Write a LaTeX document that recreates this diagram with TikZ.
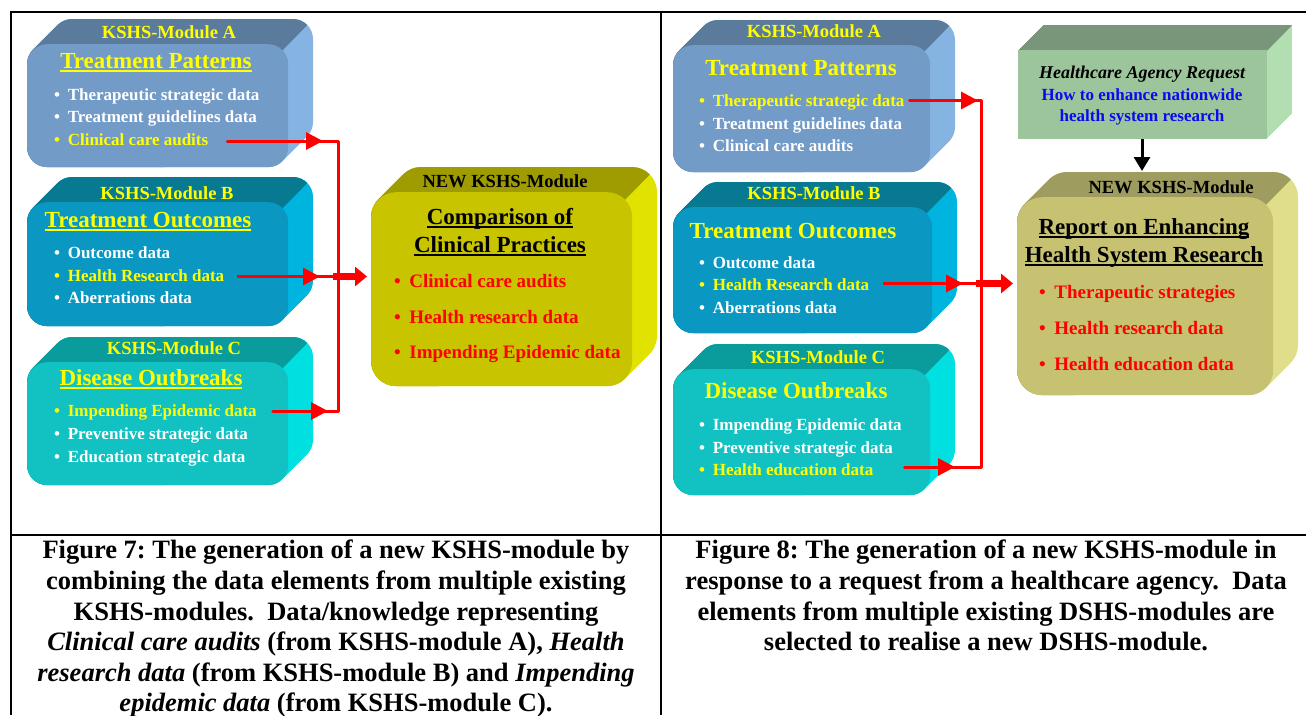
\documentclass[tikz,border=0pt]{standalone}
\usepackage{fontspec}
\setmainfont{Liberation Serif}
\usetikzlibrary{arrows.meta}
\frenchspacing

% palettes: front face, top face, side face
\definecolor{aFront}{HTML}{729BC8}\definecolor{aTop}{HTML}{5A7B9C}\definecolor{aSide}{HTML}{86B4E2}
\definecolor{bFront}{HTML}{0A98C2}\definecolor{bTop}{HTML}{077A92}\definecolor{bSide}{HTML}{00B4E0}
\definecolor{cFront}{HTML}{12C2C2}\definecolor{cTop}{HTML}{0A9C9C}\definecolor{cSide}{HTML}{00E0E0}
\definecolor{nFront}{HTML}{C8C400}\definecolor{nTop}{HTML}{9E9C00}\definecolor{nSide}{HTML}{E2E200}
\definecolor{kFront}{HTML}{C6C272}\definecolor{kTop}{HTML}{9E9C5E}\definecolor{kSide}{HTML}{E0DE8A}
\definecolor{gFront}{HTML}{9CC59C}\definecolor{gTop}{HTML}{7A967A}\definecolor{gSide}{HTML}{B2DEB2}
\definecolor{ylw}{HTML}{FFFF00}
\definecolor{lnkred}{HTML}{FF0000}
\definecolor{qblue}{HTML}{0A0AF0}

% underline crossing descenders, as in the titles
\newcommand\ulin[1]{\setbox0=\hbox{#1}\rlap{\rule[-3.5pt]{\wd0}{1.8pt}}\box0}

% extruded box: name, x0, y0, x1, y1 (front face), corner radius, palette
\newcommand\threedbox[7]{%
  \foreach \i in {0,...,25}{\fill[#7Side, rounded corners=#6] (#2+\i,#3-\i) rectangle (#4+\i,#5-\i);}
  \begin{scope}
    \clip (#4+100,#3-100) -- (#4-400,#3+400) -- (#4-400,#3-100) -- cycle;
    \foreach \i in {0,...,25}{\fill[#7Top, rounded corners=#6] (#2+\i,#3-\i) rectangle (#4+\i,#5-\i);}
  \end{scope}
  \pgfmathsetmacro\bw{#4-#2}\pgfmathsetmacro\bh{#5-#3}
  \node[anchor=north west, inner sep=0, minimum width=\bw pt, minimum height=\bh pt,
        fill=#7Front, rounded corners=#6] (#1) at (#2,#3) {};
}

\tikzset{
  hdr/.style={font=\fontsize{18.5}{21}\selectfont\bfseries, inner sep=0, anchor=base},
  ttl/.style={font=\fontsize{23}{27}\selectfont\bfseries, inner sep=0, anchor=base},
  itm/.style={font=\fontsize{17}{20}\selectfont\bfseries, inner sep=0, anchor=base west},
  ritm/.style={font=\fontsize{19}{22}\selectfont\bfseries, inner sep=0, anchor=base west, text=lnkred},
  reqtext/.style={font=\fontsize{17}{21}\selectfont\bfseries, inner sep=0, anchor=base},
  captext/.style={font=\fontsize{26.5}{30.6}\selectfont\bfseries, inner sep=0, align=center, anchor=north},
  link/.style={lnkred, line width=3pt},
  redtip/.style={-{Triangle[length=17pt,width=17pt]}},
  fat/.style={lnkred, line width=7pt, -{Triangle[length=12pt,width=19pt]}},
  frameline/.style={black, line width=2pt},
}
\newcommand\bul{\textbullet\hspace{0.45em}}

\begin{document}
\begin{tikzpicture}[x=1pt,y=-1pt]
\useasboundingbox (0,0) rectangle (1306,715);
\fill[white] (0,0) rectangle (1306,715);

% ---------- panel frame ----------
\draw[frameline] (11,715) -- (11,12) -- (1306,12);
\draw[frameline] (661,12) -- (661,715);
\draw[frameline] (11,535) -- (1306,535);

% ================= left panel =================
\threedbox{lA}{27}{44}{288}{167}{20}{a}
\node[hdr, text=ylw] (lAh) at (169,38.5) {KSHS-Module A};
\node[ttl, text=ylw] (lAt) at (156,68) {\ulin{Treatment Patterns}};
\node[itm, text=white] (lA1) at (54,100) {\bul Therapeutic strategic data};
\node[itm, text=white] (lA2) at (54,122.5) {\bul Treatment guidelines data};
\node[itm, text=ylw] (lA3) at (54,145) {\bul Clinical care audits};

\threedbox{lB}{27}{202}{288}{326}{20}{b}
\node[hdr, text=ylw] (lBh) at (167,199) {KSHS-Module B};
\node[ttl, text=ylw] (lBt) at (148,227.5) {\ulin{Treatment Outcomes}};
\node[itm, text=white] (lB1) at (54,258) {\bul Outcome data};
\node[itm, text=ylw] (lB2) at (54,281) {\bul Health Research data};
\node[itm, text=white] (lB3) at (54,303) {\bul Aberrations data};

\threedbox{lC}{27}{362}{288}{485}{20}{c}
\node[hdr, text=ylw] (lCh) at (174,354) {KSHS-Module C};
\node[ttl, text=ylw] (lCt) at (151,385.5) {\ulin{Disease Outbreaks}};
\node[itm, text=ylw] (lC1) at (54,416) {\bul Impending Epidemic data};
\node[itm, text=white] (lC2) at (54,439) {\bul Preventive strategic data};
\node[itm, text=white] (lC3) at (54,462) {\bul Education strategic data};

\threedbox{lN}{371}{192}{632}{386}{25}{n}
\node[hdr, text=black] (lNh) at (505,187) {NEW KSHS-Module};
\node[ttl, text=black] (lNt1) at (500,224.5) {\ulin{Comparison of}};
\node[ttl, text=black] (lNt2) at (500,252.5) {\ulin{Clinical Practices}};
\node[ritm] (lN1) at (394,287) {\bul Clinical care audits};
\node[ritm] (lN2) at (394,323) {\bul Health research data};
\node[ritm] (lN3) at (394,358) {\bul Impending Epidemic data};

% connectors into the bus
\coordinate (busL) at (338,0);
\coordinate (sLA) at ([shift={(19,-4)}]lA3.base east);
\coordinate (sLB) at ([shift={(13,-4.5)}]lB2.base east);
\coordinate (sLC) at ([shift={(16,-5)}]lC1.base east);
\coordinate (jL) at (sLB -| busL);
\draw[link, line cap=round, line join=round] (sLA) -- (sLA -| busL) -- (sLC -| busL) -- (sLC);
\draw[link] (sLB) -- (jL);
\draw[link, redtip, shorten >=15pt] (sLA) -- (sLA -| busL);
\draw[link, redtip, shorten >=18pt] (sLB) -- (jL);
\draw[link, redtip, shorten >=10pt] (sLC) -- (sLC -| busL);
\draw[fat, shorten >=4pt] ([xshift=-5pt]jL) -- (jL -| lN.west);

% ================= right panel =================
\threedbox{rA}{673}{45}{930}{172}{20}{a}
\node[hdr, text=ylw] (rAh) at (814,37) {KSHS-Module A};
\node[ttl, text=ylw] (rAt) at (801,75) {Treatment Patterns};
\node[itm, text=ylw] (rA1) at (699,106) {\bul Therapeutic strategic data};
\node[itm, text=white] (rA2) at (699,129) {\bul Treatment guidelines data};
\node[itm, text=white] (rA3) at (699,151) {\bul Clinical care audits};

\threedbox{rB}{673}{207}{932}{333}{20}{b}
\node[hdr, text=ylw] (rBh) at (814,199) {KSHS-Module B};
\node[ttl, text=ylw] (rBt) at (793,238) {Treatment Outcomes};
\node[itm, text=white] (rB1) at (699,268) {\bul Outcome data};
\node[itm, text=ylw] (rB2) at (699,290) {\bul Health Research data};
\node[itm, text=white] (rB3) at (699,313) {\bul Aberrations data};

\threedbox{rC}{673}{369}{930}{495}{20}{c}
\node[hdr, text=ylw] (rCh) at (818,363) {KSHS-Module C};
\node[ttl, text=ylw] (rCt) at (796,398) {Disease Outbreaks};
\node[itm, text=white] (rC1) at (699,430) {\bul Impending Epidemic data};
\node[itm, text=white] (rC2) at (699,453) {\bul Preventive strategic data};
\node[itm, text=ylw] (rC3) at (699,475) {\bul Health education data};

\threedbox{rQ}{1018}{50}{1267}{139}{0}{g}
\node[reqtext, font=\fontsize{18}{21}\selectfont\bfseries\itshape, text=black] (rQ1) at (1142,78) {Healthcare Agency Request};
\node[reqtext, text=qblue] (rQ2) at (1142,100) {How to enhance nationwide};
\node[reqtext, text=qblue] (rQ3) at (1142,121) {health system research};

\threedbox{rN}{1017}{197}{1273}{395}{25}{k}
\node[hdr, text=black] (rNh) at (1171,193) {NEW KSHS-Module};
\node[ttl, text=black] (rNt1) at (1144,234) {\ulin{Report on Enhancing}};
\node[ttl, text=black] (rNt2) at (1144,262) {\ulin{Health System Research}};
\node[ritm] (rN1) at (1039,298) {\bul Therapeutic strategies};
\node[ritm] (rN2) at (1039,334) {\bul Health research data};
\node[ritm] (rN3) at (1039,370) {\bul Health education data};

% request feeds the new module
\coordinate (rNlid) at (1142,171);
\draw[line width=3pt, -{Triangle[length=14pt,width=16pt]}] (rQ.south -| rNlid) -- (rNlid);

% connectors into the bus
\coordinate (busR) at (981,0);
\coordinate (sRA) at ([shift={(5,-5.5)}]rA1.base east);
\coordinate (sRB) at ([shift={(14,-6.5)}]rB2.base east);
\coordinate (sRC) at ([shift={(31,-8)}]rC3.base east);
\coordinate (jR) at (sRB -| busR);
\draw[link, line cap=round, line join=round] (sRA) -- (sRA -| busR) -- (sRC -| busR) -- (sRC);
\draw[link] (sRB) -- (jR);
\draw[link, redtip, shorten >=3pt] (sRA) -- (sRA -| busR);
\draw[link, redtip, shorten >=18pt] (sRB) -- (jR);
\draw[link, redtip, shorten >=26pt] (sRC) -- (sRC -| busR);
\draw[fat, shorten >=4pt] ([xshift=-5pt]jR) -- (jR -| rN.west);

% ================= captions =================
\node[captext] (capL) at (336,540) {Figure 7: The generation of a new KSHS-module by\\
combining the data elements from multiple existing\\
KSHS-modules.\ \ Data/knowledge representing\\
\textit{Clinical care audits} (from KSHS-module A), \textit{Health}\\
\textit{research data} (from KSHS-module B) and \textit{Impending}\\
\textit{epidemic data} (from KSHS-module C).};
\node[captext] (capR) at (986,540) {Figure 8: The generation of a new KSHS-module in\\
response to a request from a healthcare agency.\ \ Data\\
elements from multiple existing DSHS-modules are\\
selected to realise a new DSHS-module.};
\end{tikzpicture}
\end{document}
